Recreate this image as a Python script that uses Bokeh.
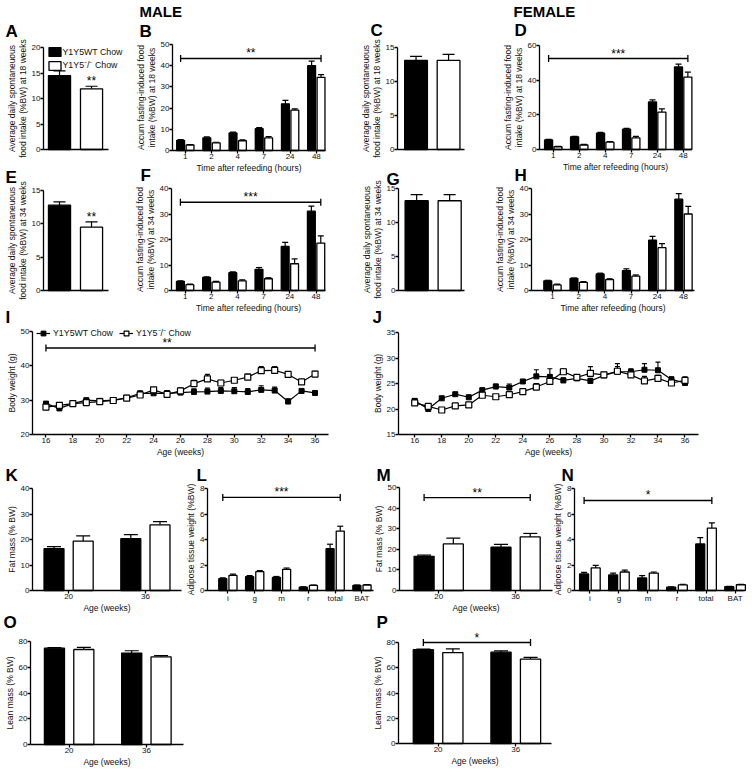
from bokeh.plotting import figure
from bokeh.models import (Range1d, FixedTicker, ColumnDataSource, Whisker, TeeHead,
                          Label, Legend, LegendItem)
from bokeh.layouts import row, column
from bokeh.embed import file_html
from bokeh.resources import INLINE

FONT = "Liberation Sans"
INK = "#111111"
TEXT_SHIFT = 5  # px: Bokeh draws alphabetic baselines a little low

# ---------------- data ----------------
GROUPS = ["Y1Y5WT Chow", "Y1Y5\u207b/\u207b Chow"]
HOURS = ["1", "2", "4", "7", "24", "48"]
AGES = ["20", "36"]
DEPOTS = ["i", "g", "m", "r", "total", "BAT"]
WEEKS = list(range(16, 37))
WEEK_TICKS = list(range(16, 37, 2))

# A / C / E / G : average daily spontaneous food intake (WT, KO)
a_mean = [14.5, 11.9]
a_sem = [0.9, 0.5]
c_mean = [13.1, 13.1]
c_sem = [0.6, 0.9]
e_mean = [12.8, 9.5]
e_sem = [0.5, 0.8]
g_mean = [13.2, 13.2]
g_sem = [0.9, 0.9]

# B / D / F / H : accumulated fasting-induced food intake per hour
b_wt = [4.8, 6.0, 8.3, 10.3, 22.0, 40.0]
b_wt_sem = [0.3, 0.4, 0.4, 0.5, 1.6, 2.2]
b_ko = [2.6, 3.6, 4.6, 6.0, 19.0, 34.5]
b_ko_sem = [0.2, 0.3, 0.4, 0.6, 0.6, 1.3]

d_wt = [5.5, 7.3, 9.5, 11.7, 27.4, 47.6]
d_wt_sem = [0.3, 0.3, 0.4, 0.5, 1.2, 1.7]
d_ko = [1.6, 2.6, 4.2, 6.7, 21.6, 41.8]
d_ko_sem = [0.2, 0.3, 0.4, 0.9, 1.8, 2.8]

f_wt = [3.6, 5.1, 7.0, 8.3, 17.3, 31.1]
f_wt_sem = [0.2, 0.3, 0.3, 0.7, 1.6, 2.0]
f_ko = [2.3, 3.3, 3.8, 4.6, 10.5, 18.6]
f_ko_sem = [0.2, 0.3, 0.4, 0.4, 1.9, 2.8]

h_wt = [3.8, 4.7, 6.5, 7.8, 19.7, 35.8]
h_wt_sem = [0.2, 0.2, 0.3, 0.7, 1.5, 2.2]
h_ko = [2.2, 3.2, 4.3, 5.6, 16.8, 30.0]
h_ko_sem = [0.3, 0.3, 0.3, 0.5, 1.6, 3.0]

# I / J : body weight over age
i_wt = [29.0, 27.6, 29.0, 30.0, 29.8, 30.0, 30.7, 32.0, 32.0, 32.0, 32.2,
        32.4, 32.5, 32.7, 32.6, 32.4, 33.0, 32.8, 29.6, 32.7, 32.1]
i_wt_sem = [0.4, 0.4, 0.4, 0.5, 0.4, 0.4, 0.4, 0.6, 0.6, 0.8, 0.5,
            0.9, 1.0, 1.0, 1.1, 1.0, 1.2, 1.0, 0.8, 0.4, 0.3]
i_ko = [28.0, 28.5, 29.0, 29.3, 29.6, 29.9, 30.6, 31.5, 33.0, 31.7, 32.7,
        34.8, 36.2, 35.0, 35.8, 36.7, 38.6, 38.7, 37.5, 35.3, 37.6]
i_ko_sem = [0.4, 0.4, 0.3, 0.4, 0.3, 0.3, 0.4, 0.5, 0.5, 0.8, 0.8,
            1.0, 1.3, 0.8, 0.6, 0.9, 1.2, 1.1, 0.8, 0.7, 0.8]

j_wt = [21.6, 20.0, 22.1, 22.9, 22.3, 23.7, 24.4, 24.2, 25.4, 26.4, 26.3,
        25.6, 26.0, 25.5, 26.6, 27.3, 27.3, 27.7, 27.6, 25.8, 25.1]
j_wt_sem = [0.4, 0.3, 0.4, 0.3, 0.4, 0.3, 0.5, 0.7, 0.3, 1.3, 1.6,
            0.5, 0.4, 0.5, 0.5, 1.0, 0.6, 1.2, 1.6, 0.5, 0.3]
j_ko = [21.2, 20.5, 19.8, 20.6, 20.8, 22.7, 22.4, 22.8, 23.4, 24.3, 25.4,
        27.3, 26.2, 27.0, 26.7, 27.4, 26.7, 25.5, 26.0, 25.1, 25.6]
j_ko_sem = [0.3, 0.3, 0.3, 0.3, 0.3, 0.4, 0.3, 0.4, 0.5, 0.7, 0.6,
            0.6, 0.4, 1.3, 0.5, 1.5, 0.5, 0.9, 0.6, 0.7, 0.7]

# K / M : fat mass at 20 and 36 weeks
k_wt = [16.4, 20.3]
k_wt_sem = [0.8, 1.6]
k_ko = [19.4, 25.7]
k_ko_sem = [2.0, 1.3]
m_wt = [16.6, 21.0]
m_wt_sem = [0.6, 1.4]
m_ko = [22.6, 26.0]
m_ko_sem = [2.8, 1.7]

# L / N : adipose tissue weights
l_wt = [0.92, 1.08, 1.02, 0.26, 3.28, 0.40]
l_wt_sem = [0.08, 0.08, 0.08, 0.03, 0.35, 0.03]
l_ko = [1.18, 1.48, 1.66, 0.40, 4.66, 0.43]
l_ko_sem = [0.10, 0.08, 0.10, 0.03, 0.38, 0.03]
n_wt = [1.30, 1.22, 0.99, 0.26, 3.65, 0.30]
n_wt_sem = [0.12, 0.15, 0.17, 0.03, 0.50, 0.03]
n_ko = [1.77, 1.45, 1.37, 0.44, 4.90, 0.45]
n_ko_sem = [0.20, 0.15, 0.08, 0.05, 0.40, 0.04]

# O / P : lean mass
o_wt = [74.8, 71.0]
o_wt_sem = [0.4, 1.8]
o_ko = [73.8, 68.1]
o_ko_sem = [1.6, 1.0]
p_wt = [74.3, 72.3]
p_wt_sem = [0.4, 1.1]
p_ko = [72.0, 66.9]
p_ko_sem = [3.0, 1.3]


# ---------------- helpers ----------------
def style_axis(ax):
    ax.axis_line_color = "black"
    ax.axis_line_width = 1.3
    ax.major_tick_line_color = "black"
    ax.major_tick_line_width = 1.3
    ax.major_tick_in = 0
    ax.major_tick_out = 3
    ax.minor_tick_line_color = None
    ax.major_label_text_font = FONT
    ax.major_label_text_font_size = "8px"
    ax.major_label_text_color = INK
    ax.major_label_standoff = 0
    ax.axis_label_text_font = FONT
    ax.axis_label_text_font_size = "8.5px"
    ax.axis_label_text_font_style = "normal"
    ax.axis_label_text_color = INK
    ax.axis_label_standoff = 1
    ax.axis_label_text_line_height = 1.05


class Panel:
    """A figure whose canvas is entirely its frame; the axes are pinned
    (fixed_location) round an inner plotting rectangle."""

    def __init__(self, box, frame, xr, yr, yticks):
        self.box, self.frame, self.xr, self.yr = box, frame, xr, yr
        bx0, by0, bx1, by1 = box
        fx0, fy0, fx1, fy1 = frame
        sx = (xr[1] - xr[0]) / (fx1 - fx0)
        sy = (yr[1] - yr[0]) / (fy1 - fy0)
        self.sy = sy
        X0 = xr[0] - (fx0 - bx0) * sx
        X1 = xr[1] + (bx1 - fx1) * sx
        Y0 = yr[0] - (by1 - fy1) * sy
        Y1 = yr[1] + (fy0 - by0) * sy
        p = figure(width=bx1 - bx0, height=by1 - by0,
                   x_range=Range1d(X0, X1), y_range=Range1d(Y0, Y1),
                   min_border=0, min_border_left=0, min_border_right=0,
                   min_border_top=0, min_border_bottom=0,
                   output_backend="svg", toolbar_location=None, tools="",
                   title=None)
        p.xgrid.visible = False
        p.ygrid.visible = False
        p.outline_line_color = None
        p.background_fill_color = "white"
        p.border_fill_color = "white"
        xa, ya = p.xaxis[0], p.yaxis[0]
        style_axis(xa)
        style_axis(ya)
        xa.fixed_location = yr[0]
        ya.fixed_location = xr[0]
        xa.bounds = (xr[0], xr[1])
        ya.bounds = (yr[0], yr[1])
        ya.ticker = FixedTicker(ticks=yticks)
        self.p = p

    def page(self, px, py):
        fx0, fy0, fx1, fy1 = self.frame
        x = self.xr[0] + (px - fx0) / (fx1 - fx0) * (self.xr[1] - self.xr[0])
        y = self.yr[0] + (fy1 - py) / (fy1 - fy0) * (self.yr[1] - self.yr[0])
        return x, y

    def text_at(self, px, py, txt, size, bold=True, align="left"):
        x, y = self.page(px, py - TEXT_SHIFT)
        self.p.add_layout(Label(x=x, y=y, text=txt, text_font=FONT,
                                text_font_size=size,
                                text_font_style="bold" if bold else "normal",
                                text_align=align, text_baseline="alphabetic",
                                text_color="black"))

    def no_xticks(self):
        self.p.xaxis.ticker = FixedTicker(ticks=[])
        self.p.xaxis.major_tick_out = 0

    def cat_ticks(self, labels):
        self.p.xaxis.ticker = FixedTicker(ticks=list(range(len(labels))))
        self.p.xaxis.major_label_overrides = {i: lab for i, lab in enumerate(labels)}

    def stars(self, x, y, txt):
        self.p.add_layout(Label(x=x, y=y + TEXT_SHIFT * self.sy, text=txt, text_font=FONT,
                                text_font_size="12px", text_align="center",
                                text_baseline="alphabetic", text_color="black"))

    def bracket(self, xa, xb, y, txt, star_x=None):
        src = ColumnDataSource(dict(base=[y], lo=[xa], hi=[xb]))
        self.p.add_layout(Whisker(source=src, dimension="width", base="base",
                                  lower="lo", upper="hi", line_color="black",
                                  line_width=1.3, level="overlay",
                                  lower_head=TeeHead(size=7, line_color="black", line_width=1.3),
                                  upper_head=TeeHead(size=7, line_color="black", line_width=1.3)))
        self.stars((xa + xb) / 2 if star_x is None else star_x, y, txt)


def grouped(pan, wt, wt_sem, ko, ko_sem, off, width, cap):
    rs = []
    n = len(wt)
    for vals, sem, sign, fill in ((wt, wt_sem, -1, "black"), (ko, ko_sem, 1, "white")):
        src = ColumnDataSource(dict(
            x=[i + sign * off for i in range(n)], top=vals,
            up=[v + s for v, s in zip(vals, sem)]))
        pan.p.add_layout(Whisker(source=src, base="x", lower="top", upper="up",
                                 line_color="black", line_width=1.2,
                                 upper_head=TeeHead(size=cap, line_color="black", line_width=1.2),
                                 lower_head=None, level="underlay"))
        r = pan.p.vbar(x="x", top="top", bottom=0, width=width, source=src,
                       fill_color=fill, line_color="black", line_width=1.3)
        rs.append(r)
    return rs


def pair(pan, mean, sem, width, cap):
    return grouped(pan, [mean[0]], [sem[0]], [mean[1]], [sem[1]], 0.5, width, cap)


def lines(pan, wt, wt_sem, ko, ko_sem):
    srcs = []
    for vals, sem in ((wt, wt_sem), (ko, ko_sem)):
        src = ColumnDataSource(dict(x=WEEKS, y=vals, up=[v + s for v, s in zip(vals, sem)]))
        srcs.append(src)
        pan.p.add_layout(Whisker(source=src, base="x", lower="y", upper="up",
                                 line_color="black", line_width=1.1,
                                 upper_head=TeeHead(size=5, line_color="black", line_width=1.1),
                                 lower_head=None, level="underlay"))
    lw = pan.p.line("x", "y", source=srcs[0], line_color="black", line_width=1.2)
    lk = pan.p.line("x", "y", source=srcs[1], line_color="black", line_width=1.2)
    sw = pan.p.scatter("x", "y", source=srcs[0], marker="square", size=5,
                       fill_color="black", line_color="black", line_width=1)
    sk = pan.p.scatter("x", "y", source=srcs[1], marker="square", size=6,
                       fill_color="white", line_color="black", line_width=1.2)
    return (lw, sw), (lk, sk)


FOOD18 = "Average daily spontaneuous\nfood intake (%BW) at 18 weeks"
FOOD34 = "Average daily spontaneuous\nfood intake (%BW) at 34 weeks"
ACC18 = "Accum fasting-induced food\nintake (%BW) at 18 weeks"
ACC34 = "Accum fasting-induced food\nintake (%BW) at 34 weeks"
REFEED = "Time after refeeding (hours)"
AGE = "Age (weeks)"
LETTER = "17px"

# ---------------- A ----------------
A = Panel((0, 0, 128, 162), (43, 47, 108, 149), (-1.0, 1.03), (0, 20), [0, 5, 10, 15, 20])
A.p.yaxis.axis_label = FOOD18
A.no_xticks()
rw, rk = pair(A, a_mean, a_sem, 0.69, 12)
A.stars(0.5, a_mean[1] + a_sem[1], "**")
legA = Legend(items=[LegendItem(label=GROUPS[0], renderers=[rw]),
                     LegendItem(label=GROUPS[1], renderers=[rk])],
              location=(46.5, 91), orientation="vertical", glyph_width=15, glyph_height=11,
              label_height=11, spacing=2, padding=0, margin=0, label_standoff=1,
              label_text_font=FONT, label_text_font_size="8.8px", label_text_color=INK,
              background_fill_alpha=0, border_line_color=None)
A.p.add_layout(legA)
A.text_at(5, 36, "A", LETTER)

# ---------------- E ----------------
E = Panel((0, 162, 128, 326), (43, 190, 108, 290), (-1.0, 1.03), (0, 15), [0, 5, 10, 15])
E.p.yaxis.axis_label = FOOD34
E.no_xticks()
pair(E, e_mean, e_sem, 0.69, 12)
E.stars(0.5, e_mean[1] + e_sem[1], "**")
E.text_at(5, 182, "E", LETTER)
E.text_at(5, 322, "I", LETTER)

# ---------------- B ----------------
B = Panel((128, 0, 345, 184), (172, 44, 325, 150), (-0.49, 5.35), (0, 50), [0, 10, 20, 30, 40, 50])
B.p.yaxis.axis_label = ACC18
B.p.xaxis.axis_label = REFEED
B.cat_ticks(HOURS)
grouped(B, b_wt, b_wt_sem, b_ko, b_ko_sem, 0.18, 0.3, 6)
B.bracket(-0.18, 5.18, 43.4, "**")
B.text_at(139, 36, "B", LETTER)
B.text_at(139, 16, "MALE", "15px")
B.text_at(140, 180, "F", LETTER)

# ---------------- F ----------------
F = Panel((128, 184, 345, 326), (171, 188, 325, 290), (-0.52, 5.36), (0, 40), [0, 10, 20, 30, 40])
F.p.yaxis.axis_label = ACC34
F.p.xaxis.axis_label = REFEED
F.cat_ticks(HOURS)
grouped(F, f_wt, f_wt_sem, f_ko, f_ko_sem, 0.18, 0.3, 6)
F.bracket(-0.18, 5.18, 34.6, "***")

# ---------------- C ----------------
C = Panel((345, 0, 495, 162), (397, 47, 464, 149), (-1.07, 0.99), (0, 15), [0, 5, 10, 15])
C.p.yaxis.axis_label = FOOD18
C.no_xticks()
pair(C, c_mean, c_sem, 0.7, 12)
C.text_at(370, 35, "C", LETTER)

# ---------------- G ----------------
G = Panel((345, 162, 495, 326), (398, 188, 464, 290), (-1.05, 0.95), (0, 15), [0, 5, 10, 15])
G.p.yaxis.axis_label = FOOD34
G.no_xticks()
pair(G, g_mean, g_sem, 0.7, 12)
G.text_at(386, 184, "G", LETTER)
G.text_at(372, 322, "J", LETTER)

# ---------------- D ----------------
D = Panel((495, 0, 752, 184), (539, 45, 691, 149), (-0.53, 5.32), (0, 60), [0, 20, 40, 60])
D.p.yaxis.axis_label = ACC18
D.p.xaxis.axis_label = REFEED
D.cat_ticks(HOURS)
grouped(D, d_wt, d_wt_sem, d_ko, d_ko_sem, 0.18, 0.31, 6)
D.bracket(-0.18, 5.18, 52.5, "***")
D.text_at(514, 35, "D", LETTER)
D.text_at(513, 16, "FEMALE", "15px")
D.text_at(514, 180, "H", LETTER)

# ---------------- H ----------------
H = Panel((495, 184, 752, 326), (531, 188, 694, 290), (-0.8, 5.42), (0, 40), [0, 10, 20, 30, 40])
H.p.yaxis.axis_label = ACC34
H.p.xaxis.axis_label = REFEED
H.cat_ticks(HOURS)
grouped(H, h_wt, h_wt_sem, h_ko, h_ko_sem, 0.18, 0.3, 6)

# ---------------- I ----------------
I = Panel((0, 326, 370, 463), (32, 331, 328, 434), (15, 37), (20, 50), [20, 30, 40, 50])
I.p.yaxis.axis_label = "Body weight (g)"
I.p.xaxis.axis_label = AGE
I.p.xaxis.ticker = FixedTicker(ticks=WEEK_TICKS)
(iw, iws), (ik, iks) = lines(I, i_wt, i_wt_sem, i_ko, i_ko_sem)
I.bracket(16, 36, 45.2, "**", star_x=25)
legI = Legend(items=[LegendItem(label=GROUPS[0], renderers=[iw, iws]),
                     LegendItem(label=GROUPS[1], renderers=[ik, iks])],
              location=(36, 124), orientation="horizontal", glyph_width=14, glyph_height=12,
              label_height=12, spacing=6, padding=0, margin=0, label_standoff=3,
              label_text_font=FONT, label_text_font_size="8.8px", label_text_color=INK,
              background_fill_alpha=0, border_line_color=None)
I.p.add_layout(legI)

# ---------------- J ----------------
J = Panel((370, 326, 752, 463), (398, 332, 698, 434), (14.8, 37), (15, 35), [15, 20, 25, 30, 35])
J.p.yaxis.axis_label = "Body weight (g)"
J.p.xaxis.axis_label = AGE
J.p.xaxis.ticker = FixedTicker(ticks=WEEK_TICKS)
lines(J, j_wt, j_wt_sem, j_ko, j_ko_sem)

# ---------------- K ----------------
K = Panel((0, 463, 182, 631), (32, 488, 181, 590), (-0.47, 1.47), (0, 40), [0, 10, 20, 30, 40])
K.p.yaxis.axis_label = "Fat mass (% BW)"
K.p.xaxis.axis_label = AGE
K.cat_ticks(AGES)
grouped(K, k_wt, k_wt_sem, k_ko, k_ko_sem, 0.19, 0.26, 14)
K.text_at(5, 480, "K", LETTER)
K.text_at(3, 627, "O", LETTER)

# ---------------- L ----------------
L = Panel((182, 463, 374, 631), (207, 488, 373, 590), (-0.76, 5.43), (0, 8), [0, 2, 4, 6, 8])
L.p.yaxis.axis_label = "Adipose tissue weight (%BW)"
L.cat_ticks(DEPOTS)
grouped(L, l_wt, l_wt_sem, l_ko, l_ko_sem, 0.19, 0.3, 6)
L.bracket(-0.19, 4.19, 7.3, "***")
L.text_at(196, 480, "L", LETTER)

# ---------------- M ----------------
M = Panel((374, 463, 553, 631), (399, 487, 552, 590), (-0.51, 1.48), (0, 50), [0, 10, 20, 30, 40, 50])
M.p.yaxis.axis_label = "Fat mass (% BW)"
M.p.xaxis.axis_label = AGE
M.cat_ticks(AGES)
grouped(M, m_wt, m_wt_sem, m_ko, m_ko_sem, 0.19, 0.26, 14)
M.bracket(-0.19, 1.19, 45.1, "**")
M.text_at(376, 480, "M", LETTER)
M.text_at(376, 627, "P", LETTER)

# ---------------- N ----------------
N = Panel((553, 463, 752, 631), (574, 488, 743, 590), (-0.53, 5.29), (0, 8), [0, 2, 4, 6, 8])
N.p.yaxis.axis_label = "Adipose tissue weight (%BW)"
N.cat_ticks(DEPOTS)
grouped(N, n_wt, n_wt_sem, n_ko, n_ko_sem, 0.2, 0.31, 6)
N.bracket(-0.2, 4.2, 7.06, "*")
N.text_at(561, 480, "N", LETTER)

# ---------------- O ----------------
O = Panel((0, 631, 370, 770), (30, 641, 183, 744), (-0.5, 1.48), (0, 80), [0, 20, 40, 60, 80])
O.p.yaxis.axis_label = "Lean mass (% BW)"
O.p.xaxis.axis_label = AGE
O.cat_ticks(AGES)
grouped(O, o_wt, o_wt_sem, o_ko, o_ko_sem, 0.19, 0.26, 14)

# ---------------- P ----------------
P = Panel((370, 631, 752, 770), (398, 642, 551, 743), (-0.51, 1.46), (0, 80), [0, 20, 40, 60, 80])
P.p.yaxis.axis_label = "Lean mass (% BW)"
P.p.xaxis.axis_label = AGE
P.cat_ticks(AGES)
grouped(P, p_wt, p_wt_sem, p_ko, p_ko_sem, 0.19, 0.26, 14)
P.bracket(-0.19, 1.19, 80.0, "*")

top = row(column(A.p, E.p), column(B.p, F.p), column(C.p, G.p), column(D.p, H.p))
mid = row(I.p, J.p)
r4 = row(K.p, L.p, M.p, N.p)
r5 = row(O.p, P.p)
layout = column(top, mid, r4, r5)

open("out.html", "w").write(file_html(layout, INLINE))
